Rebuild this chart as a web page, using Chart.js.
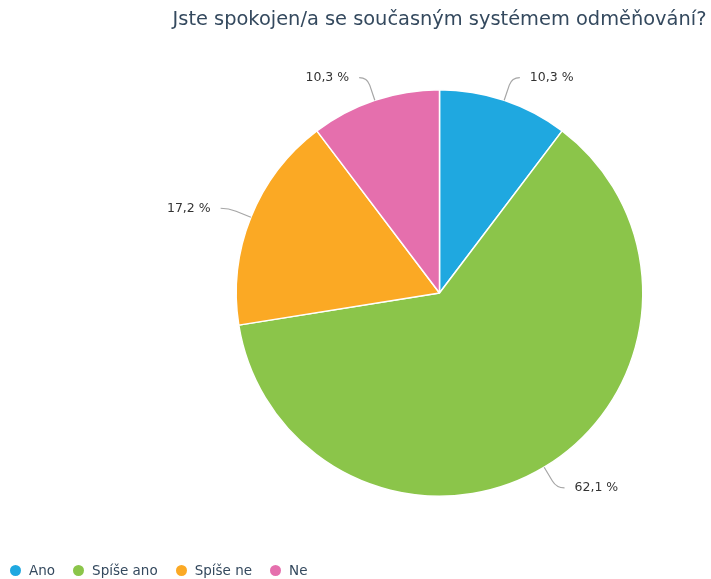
<!DOCTYPE html>
<html>
<head>
<meta charset="utf-8">
<script src="https://cdn.jsdelivr.net/npm/chart.js@4"></script>
<style>
    body { margin: 0; background: #fff; }
    #wrap { position: relative; width: 711px; height: 579px; }
    #legend { position: absolute; left: 10px; top: 562px; font-family: "DejaVu Sans", sans-serif; font-size: 13.5px; color: #34495e; display: flex; }
    #legend span.item { display: flex; align-items: center; margin-right: 18px; }
    #legend span.dot { width: 11px; height: 11px; border-radius: 50%; margin-right: 8px; display: inline-block; }
</style>
</head>
<body>
<div id="wrap">
    <canvas id="pieChart" width="711" height="579"></canvas>
    <div id="legend"></div>
</div>
<script>
const titleText = 'Jste spokojen/a se současným systémem odměňování?';
const labels = ['Ano', 'Spíše ano', 'Spíše ne', 'Ne'];
const percents = [10.3, 62.1, 17.2, 10.3];
const colors = ['#1fa8e0', '#8bc54a', '#fba924', '#e56fad'];

// popisky s vodicí čarou
const leaderLabels = {
    id: 'leaderLabels',
    afterDatasetsDraw(chart) {
        const ctx = chart.ctx;
        const arcs = chart.getDatasetMeta(0).data;
        ctx.save();
        ctx.font = '12.5px "DejaVu Sans", sans-serif';
        ctx.textBaseline = 'middle';
        arcs.forEach((arc, i) => {
            const mid = (arc.startAngle + arc.endAngle) / 2;
            const r = arc.outerRadius;
            const cos = Math.cos(mid), sin = Math.sin(mid);
            const right = cos >= 0;
            const x0 = arc.x + cos * r, y0 = arc.y + sin * r;
            const x1 = arc.x + cos * (r + 16), y1 = arc.y + sin * (r + 16);
            const xe = arc.x + cos * (r + 24), ye = arc.y + sin * (r + 24);
            const x2 = xe + (right ? 8 : -8);
            ctx.strokeStyle = '#a6a6a6';
            ctx.lineWidth = 1.2;
            ctx.beginPath();
            ctx.moveTo(x0, y0);
            ctx.lineTo(x1, y1);
            ctx.quadraticCurveTo(xe, ye, x2, ye);
            ctx.stroke();
            ctx.fillStyle = '#333';
            ctx.textAlign = right ? 'left' : 'right';
            ctx.fillText(String(percents[i]).replace('.', ',') + ' %', x2 + (right ? 10 : -10), ye);
        });
        ctx.restore();
    }
};

new Chart(document.getElementById('pieChart').getContext('2d'), {
    type: 'pie',
    data: {
        labels: labels,
        datasets: [{
            data: percents,
            backgroundColor: colors,
            borderColor: '#fff',
            borderWidth: 1.5
        }]
    },
    options: {
        responsive: false,
        animation: false,
        layout: { padding: { left: 170, right: 2, top: 0, bottom: 82 } },
        plugins: {
            legend: { display: false },
            tooltip: { enabled: false },
            title: {
                display: true,
                text: titleText,
                color: '#34495e',
                font: { family: '"DejaVu Sans", sans-serif', size: 19.4, weight: 'normal' },
                padding: { top: 8, bottom: 57.7 }
            }
        }
    },
    plugins: [leaderLabels]
});

const legendEl = document.getElementById('legend');
labels.forEach((name, i) => {
    const item = document.createElement('span');
    item.className = 'item';
    const dot = document.createElement('span');
    dot.className = 'dot';
    dot.style.background = colors[i];
    item.appendChild(dot);
    item.appendChild(document.createTextNode(name));
    legendEl.appendChild(item);
});
</script>
</body>
</html>
